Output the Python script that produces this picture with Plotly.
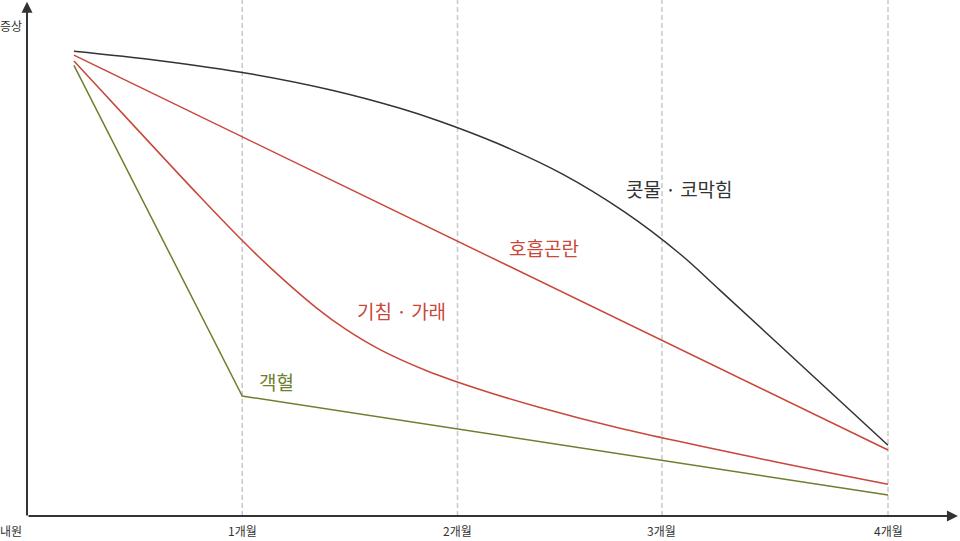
import plotly.graph_objects as go

# ---- data (x in months, y = symptom level) ----
tick_labels = ["내원", "1개월", "2개월", "3개월", "4개월"]
tick_pos = [0.0, 1.0, 2.0, 2.95, 4.0]
grid_pos = [1.0, 2.0, 2.95, 4.0]

runny_x = [0.218, 0.609, 1.036, 1.412, 1.733, 1.914, 2.184, 2.486, 2.774, 3.034, 3.220, 3.591, 4.0]
runny_y = [99.94, 97.96, 95.10, 91.61, 87.68, 84.95, 80.15, 73.57, 65.44, 56.34, 48.52, 32.69, 15.2]

dyspnea_x = [0.218, 4.0]
dyspnea_y = [99.1, 14.2]

cough_x = [0.218, 0.511, 0.804, 0.999, 1.134, 1.343, 1.482, 1.640, 1.868, 2.100, 2.383, 2.755, 3.470, 4.0]
cough_y = [97.87, 83.20, 68.65, 59.29, 53.25, 44.82, 40.11, 35.78, 31.03, 27.27, 23.33, 18.86, 11.72, 6.82]

hemo_x = [0.218, 1.0, 4.0]
hemo_y = [96.9, 25.8, 4.5]

series_names = ["콧물 · 코막힘", "호흡곤란", "기침 · 가래", "객혈"]
label_x = [3.03, 2.40, 1.74, 1.16]
label_y = [70.5, 57.8, 44.3, 29.0]

BLACK = "#333333"
RED = "#c8473a"
GREEN = "#6e7f2e"
FONT = "Noto Sans CJK KR"

X_RANGE = [-0.1254, 4.3345]
Y_RANGE = [-5.376, 110.97]

fig = go.Figure()

# dashed gridlines
for gx in grid_pos:
    fig.add_shape(type="line", x0=gx, x1=gx, y0=0, y1=Y_RANGE[1],
                  xref="x", yref="y", layer="below",
                  line=dict(color="#c8c8c8", width=1.5, dash="5px,3px"))

series = [
    (runny_x, runny_y, BLACK, "spline"),
    (dyspnea_x, dyspnea_y, RED, "linear"),
    (cough_x, cough_y, RED, "spline"),
    (hemo_x, hemo_y, GREEN, "linear"),
]
for (xs, ys, col, shape), name in zip(series, series_names):
    fig.add_trace(go.Scatter(x=xs, y=ys, mode="lines", name=name,
                             line=dict(color=col, width=1.5, shape=shape, smoothing=1.0),
                             hoverinfo="skip"))

# series labels
for name, lx, ly, col in zip(series_names, label_x, label_y, [BLACK, RED, RED, GREEN]):
    fig.add_annotation(x=lx, y=ly, text=name, showarrow=False, xanchor="center", yanchor="middle",
                       font=dict(family=FONT, size=19, color=col))

# axes with arrows
fig.add_annotation(x=0, y=110.6, ax=0, ay=-0.2, xref="x", yref="y", axref="x", ayref="y",
                   text="", showarrow=True, arrowhead=2, arrowsize=1.1, arrowwidth=2, arrowcolor=BLACK)
fig.add_annotation(x=4.325, y=0, ax=0, ay=0, xref="x", yref="y", axref="x", ayref="y",
                   text="", showarrow=True, arrowhead=2, arrowsize=1.1, arrowwidth=2, arrowcolor=BLACK)

# tick labels
for lbl, tp in zip(tick_labels, tick_pos):
    xx = tp if tp > 0 else -0.074
    fig.add_annotation(x=xx, y=-5.1, text=lbl, showarrow=False, xanchor="center", yanchor="bottom",
                       borderpad=0, font=dict(family=FONT, size=12, color=BLACK))

# y-axis title
fig.add_annotation(x=-0.074, y=105.4, text="증상", showarrow=False, xanchor="center", yanchor="middle",
                   font=dict(family=FONT, size=12, color=BLACK))

fig.update_layout(
    width=960, height=541,
    margin=dict(l=0, r=0, t=0, b=0),
    paper_bgcolor="white", plot_bgcolor="white",
    showlegend=False,
    xaxis=dict(range=X_RANGE, visible=False, fixedrange=True),
    yaxis=dict(range=Y_RANGE, visible=False, fixedrange=True),
)

fig.write_html("out.html", config={"displayModeBar": False},
               post_script="document.body.style.margin='0';document.body.style.overflow='hidden';")
